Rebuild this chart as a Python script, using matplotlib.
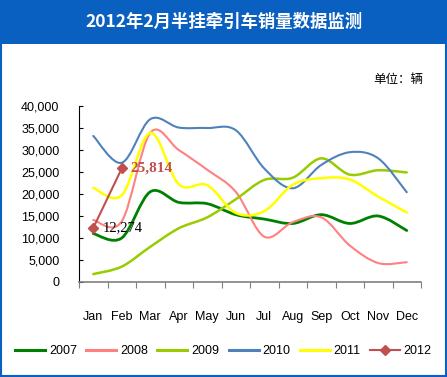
import matplotlib
matplotlib.use("Agg")
import matplotlib.pyplot as plt
from matplotlib.path import Path
from matplotlib.patches import PathPatch, Rectangle

# ---------------------------------
# DATA
# ---------------------------------

months = ["Jan", "Feb", "Mar", "Apr", "May", "Jun",
          "Jul", "Aug", "Sep", "Oct", "Nov", "Dec"]

sales_2007 = [11000, 10000, 20500, 18100, 17800, 15300,
              14300, 13300, 15300, 13300, 15000, 11700]
sales_2008 = [14100, 13800, 33900, 30000, 25500, 20500,
              10300, 13600, 14700, 8300, 4300, 4500]
sales_2009 = [1800, 3500, 8000, 12200, 14700, 18800,
              23200, 23700, 28100, 24400, 25400, 24900]
sales_2010 = [33200, 27100, 37000, 35100, 35000, 34500,
              25800, 21300, 26600, 29500, 28100, 20400]
sales_2011 = [21400, 19700, 33900, 22200, 22000, 15700,
              16100, 22100, 23600, 23300, 19400, 15800]
sales_2012 = [12274, 25814]

series = [
    ("2007", sales_2007, "#008000", 2.0),
    ("2008", sales_2008, "#FF8080", 1.5),
    ("2009", sales_2009, "#99CC00", 1.8),
    ("2010", sales_2010, "#4F81BD", 1.5),
    ("2011", sales_2011, "#FFFF00", 1.8),
]

BLUE = "#0A60C0"
RED = "#C0504D"


def smooth_path(xs, ys):
    """Excel-like smoothed line as cubic Bezier segments."""
    n = len(xs)
    verts = [(xs[0], ys[0])]
    codes = [Path.MOVETO]
    for i in range(n - 1):
        a = i - 1 if i > 0 else i
        d = i + 2 if i + 2 < n else i + 1
        c1 = (xs[i] + (xs[i + 1] - xs[a]) / 6, ys[i] + (ys[i + 1] - ys[a]) / 6)
        c2 = (xs[i + 1] - (xs[d] - xs[i]) / 6, ys[i + 1] - (ys[d] - ys[i]) / 6)
        verts += [c1, c2, (xs[i + 1], ys[i + 1])]
        codes += [Path.CURVE4] * 3
    return Path(verts, codes)


# ---------------------------------
# FIGURE
# ---------------------------------

fig = plt.figure(figsize=(4.47, 3.77), dpi=100)

# title banner + border
fig.patches.append(Rectangle((0, 1 - 44 / 377), 1, 44 / 377,
                             transform=fig.transFigure,
                             facecolor=BLUE, edgecolor="none"))
fig.patches.append(Rectangle((0.002, 0.003), 0.995, 0.994,
                             transform=fig.transFigure,
                             facecolor="none", edgecolor=BLUE, lw=1.5))
fig.text(0.5, 1 - 22 / 377, "2012年2月半挂牵引车销量数据监测",
         color="white", fontsize=12.5, fontweight="bold",
         family=["Noto Sans CJK SC", "DejaVu Sans"],
         ha="center", va="center")
fig.text(423 / 447, 1 - 80 / 377, "单位：辆", fontsize=9,
         family=["Noto Sans CJK SC", "DejaVu Sans"],
         ha="right", va="center")

ax = fig.add_axes([79 / 447, 95 / 377, 342 / 447, 176 / 377])

x = list(range(len(months)))
for name, vals, color, lw in series:
    ax.add_patch(PathPatch(smooth_path(x, vals), facecolor="none",
                           edgecolor=color, lw=lw, capstyle="round"))
    ax.plot([], [], color=color, lw=2.2, label=name)

ax.plot(x[:len(sales_2012)], sales_2012, color=RED, lw=1.5,
        marker="D", markersize=5, label="2012")

ax.annotate("25,814", (1, sales_2012[1]), xytext=(6, 0),
            textcoords="offset points", ha="left", va="center",
            color=RED, fontsize=11, fontweight="bold",
            family="Liberation Serif")
ax.annotate("12,274", (0, sales_2012[0]), xytext=(7, 0),
            textcoords="offset points", ha="left", va="center",
            color="black", fontsize=10.5, family="Liberation Serif")

# axes styling
ax.set_xlim(-0.5, len(months) - 0.5)
ax.set_ylim(0, 40000)
ax.set_yticks(range(0, 40001, 5000))
ax.set_yticklabels([f"{v:,}" for v in range(0, 40001, 5000)],
                   fontsize=9, family="Liberation Sans")
ax.tick_params(axis="y", direction="in", length=3, pad=14, color="black")

ax.set_xticks([i - 0.5 for i in range(len(months) + 1)])
ax.set_xticklabels([])
ax.set_xticks(x, minor=True)
ax.set_xticklabels(months, minor=True, fontsize=9, family="Liberation Sans")
ax.tick_params(axis="x", which="major", direction="out", length=4,
               color="#808080")
ax.tick_params(axis="x", which="minor", length=0, pad=21)

for side in ["top", "right"]:
    ax.spines[side].set_visible(False)
ax.spines["bottom"].set_color("#808080")
ax.spines["bottom"].set_linewidth(1.2)
ax.spines["left"].set_color("black")

fig.legend(loc="center", bbox_to_anchor=(0.5, 26 / 377), ncol=6,
           frameon=False, prop={"family": "Liberation Sans", "size": 9},
           handlelength=2.4, handletextpad=0.3, columnspacing=0.75,
           borderaxespad=0)

fig.savefig("out.png", dpi=100)
